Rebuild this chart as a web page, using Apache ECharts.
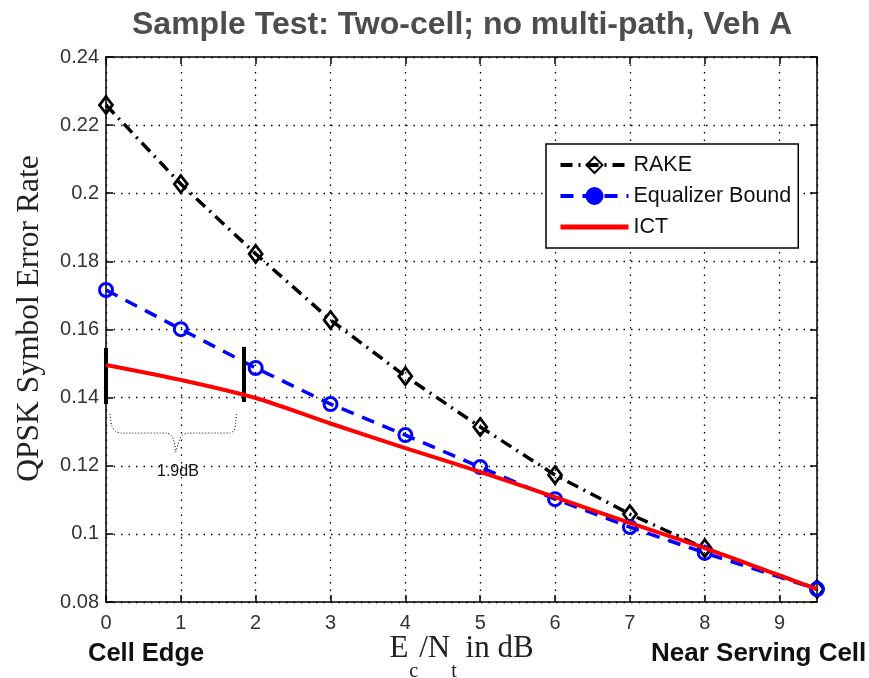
<!DOCTYPE html>
<html><head><meta charset="utf-8">
<script src="https://cdn.jsdelivr.net/npm/echarts@6/dist/echarts.min.js"></script>
<style>html,body{margin:0;padding:0;background:#fff}#c{width:869px;height:678px}</style>
</head><body><div id="c"></div>
<script>
const titleText = 'Sample Test: Two-cell; no multi-path, Veh A';
const yAxisName = 'QPSK Symbol Error Rate';
const leftCaption = 'Cell Edge';
const rightCaption = 'Near Serving Cell';
const gapLabel = '1.9dB';
const seriesNames = ['RAKE', 'Equalizer Bound', 'ICT'];

const markerX = [0, 1, 2, 3, 4, 5, 6, 7, 8, 9.5];
const rake = [0.2259, 0.2027, 0.1822, 0.1628, 0.1463, 0.1314, 0.1173, 0.1058, 0.0958, 0.0838];
const equalizer = [0.1716, 0.1601, 0.1487, 0.1381, 0.1290, 0.1196, 0.1102, 0.1020, 0.0944, 0.0838];
const ictX = [0, 1, 2, 3, 4, 5, 6, 7, 8, 9, 9.5];
const ict = [0.1496, 0.1452, 0.1399, 0.1324, 0.1252, 0.1182, 0.1108, 0.1032, 0.0958, 0.0878, 0.0838];

// annotation: vertical bars marking the 1.9 dB gap
const barEdge = [[0, 0.1546], [0, 0.1381]];
const barEq = [[1.845, 0.1549], [1.845, 0.1387]];
// annotation: dotted brace under the gap
const braceX = [0.053, 0.075, 0.12, 0.20, 0.81, 0.88, 0.92, 0.93, 0.96, 1.01, 1.09, 1.65, 1.71, 1.73, 1.745];
const braceY = [0.1352, 0.1318, 0.1302, 0.1296, 0.1296, 0.1288, 0.1262, 0.1240, 0.1262, 0.1288, 0.1296, 0.1296, 0.1303, 0.1322, 0.1358];

const zip = (xs, ys) => xs.map((x, i) => [x, ys[i]]);

const chart = echarts.init(document.getElementById('c'), null, {renderer: 'canvas'});
const sans = 'Liberation Sans';
const serif = 'Liberation Serif';
const clear = 'rgba(255,255,255,0)';

const axisCommon = {
  type: 'value',
  nameMoveOverlap: false,
  axisLine: {show: true, onZero: false, lineStyle: {color: '#000', width: 1.5}},
  axisTick: {show: true, inside: true, length: 7, lineStyle: {color: '#000', width: 1.5}},
};

chart.setOption({
  animation: false,
  backgroundColor: '#fff',
  title: {
    text: titleText, left: 132, top: 9, padding: 0,
    textStyle: {fontFamily: sans, fontSize: 32, fontWeight: 'bold', color: '#4d4d4d'}
  },
  grid: {left: 106, right: 52, top: 57, bottom: 76, containLabel: false, outerBoundsMode: 'none'},
  legend: {
    orient: 'vertical', left: 546, top: 144,
    padding: [10, 7, 10, 12], itemWidth: 68, itemHeight: 20, itemGap: 9,
    backgroundColor: '#fff', borderColor: '#000', borderWidth: 1.5,
    textStyle: {fontFamily: sans, fontSize: 21.5, color: '#111'},
    data: [
      {name: seriesNames[0], lineStyle: {width: 4}},
      {name: seriesNames[1], itemStyle: {color: '#0000ff'}, lineStyle: {width: 4}},
      {name: seriesNames[2], itemStyle: {color: clear, borderWidth: 0, borderColor: clear}, lineStyle: {width: 5}}
    ]
  },
  xAxis: [
    Object.assign({}, axisCommon, {
      position: 'bottom', min: 0, max: 9.5, interval: 1,
      splitLine: {show: true, lineStyle: {color: '#000', width: 1.3, type: [1.5, 6]}},
      axisLabel: {show: true, showMaxLabel: false, margin: 11, fontFamily: sans, fontSize: 20, color: '#333',
        formatter: v => (Number.isInteger(v) ? String(v) : '')},
      name: '{m|E}{s|c}{m|/N}{s|t}{m| in dB}', nameLocation: 'middle', nameGap: 31,
      nameTextStyle: {
        rich: {
          m: {fontFamily: serif, fontSize: 31, color: '#222', verticalAlign: 'top', lineHeight: 34},
          s: {fontFamily: serif, fontSize: 20, color: '#222', verticalAlign: 'top', lineHeight: 34, padding: [29, 1, 0, 1]}
        }
      }
    }),
    Object.assign({}, axisCommon, {
      position: 'top', min: 0, max: 9.5, interval: 1,
      splitLine: {show: false}, axisLabel: {show: false}
    })
  ],
  yAxis: [
    Object.assign({}, axisCommon, {
      position: 'left', min: 0.08, max: 0.24, interval: 0.02,
      splitLine: {show: true, lineStyle: {color: '#000', width: 1.3, type: [1.5, 6]}},
      axisLabel: {show: true, margin: 7, fontFamily: sans, fontSize: 20, color: '#333',
        formatter: v => String(+v.toFixed(2))},
      name: yAxisName, nameLocation: 'middle', nameGap: 60,
      nameTextStyle: {fontFamily: serif, fontSize: 31.5, color: '#222', padding: [0, 0, 0, 22]}
    }),
    Object.assign({}, axisCommon, {
      position: 'right', min: 0.08, max: 0.24, interval: 0.02,
      splitLine: {show: false}, axisLabel: {show: false}
    })
  ],
  series: [
    {
      name: seriesNames[0], type: 'line', data: zip(markerX, rake), z: 3,
      symbol: 'diamond', symbolSize: [13, 17],
      color: '#000',
      itemStyle: {color: clear, borderColor: '#000', borderWidth: 2.8},
      lineStyle: {color: '#000', width: 3.5, type: [12, 6, 2, 6]}
    },
    {
      name: seriesNames[1], type: 'line', data: zip(markerX, equalizer), z: 4,
      symbol: 'circle', symbolSize: 13,
      color: '#0000ff',
      itemStyle: {color: clear, borderColor: '#0000ff', borderWidth: 3},
      lineStyle: {color: '#0000ff', width: 3.5, type: [13, 9]}
    },
    {
      name: seriesNames[2], type: 'line', data: zip(ictX, ict), z: 5,
      symbol: 'none', showSymbol: false, smooth: 0.3,
      color: '#ff0000',
      lineStyle: {color: '#ff0000', width: 4}
    },
    {
      name: 'brace', type: 'line', data: zip(braceX, braceY), z: 6, silent: true,
      symbol: 'none', showSymbol: false, smooth: 0.2,
      lineStyle: {color: '#000', width: 1, type: [1, 2]},
      markLine: {
        silent: true, symbol: ['none', 'none'],
        label: {show: false},
        lineStyle: {color: '#000', width: 4, type: 'solid'},
        data: [
          [{coord: barEdge[0]}, {coord: barEdge[1]}],
          [{coord: barEq[0]}, {coord: barEq[1]}]
        ]
      }
    }
  ],
  graphic: [
    {type: 'text', left: 157, top: 464, style: {text: gapLabel, font: '16px "Liberation Sans"', fill: '#111'}},
    {type: 'text', left: 88, top: 641, style: {text: leftCaption, font: 'bold 25.5px "Liberation Sans"', fill: '#111'}},
    {type: 'text', left: 651, top: 641, style: {text: rightCaption, font: 'bold 26px "Liberation Sans"', fill: '#111'}}
  ]
});
</script>
</body></html>
